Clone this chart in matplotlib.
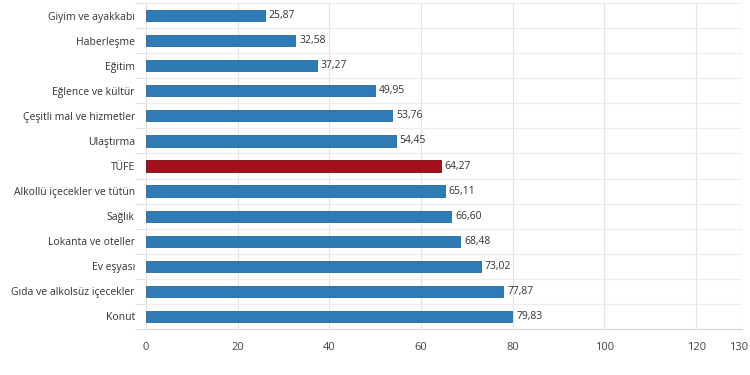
import matplotlib
matplotlib.use("Agg")
import matplotlib.pyplot as plt
import matplotlib.transforms as mtransforms
import numpy as np

categories = ["Giyim ve ayakkabı", "Haberleşme", "Eğitim", "Eğlence ve kültür",
              "Çeşitli mal ve hizmetler", "Ulaştırma", "TÜFE", "Alkollü içecekler ve tütün",
              "Sağlık", "Lokanta ve oteller", "Ev eşyası", "Gıda ve alkolsüz içecekler", "Konut"]
values = [25.87, 32.58, 37.27, 49.95, 53.76, 54.45, 64.27, 65.11, 66.60, 68.48, 73.02, 77.87, 79.83]
xticks = [0, 20, 40, 60, 80, 100, 120, 130]

plt.rcParams['font.family'] = ['Open Sans', 'DejaVu Sans']

fig = plt.figure(figsize=(7.5, 3.75), dpi=100)
ax = fig.add_axes([146/750, 1-329/375, (742-146)/750, (329-3)/375])

n = len(categories)
y = np.arange(n)
colors = ['#a50f1b' if c == 'TÜFE' else '#2f7bb6' for c in categories]
edges = ['#7a0a14' if c == 'TÜFE' else '#25679c' for c in categories]
ax.barh(y, values, height=0.45, color=colors, edgecolor=edges, linewidth=0.6, zorder=3)
for yi, v in zip(y, values):
    ax.text(v + 0.9, yi, f"{v:.2f}".replace('.', ','), va='center', ha='left',
            fontsize=7.5, color='#333333', zorder=4)

ax.set_xlim(0, 130)
ax.set_ylim(n - 0.5, -0.5)
ax.set_xticks(xticks)
ax.set_xticklabels([str(t) for t in xticks], fontsize=8, color='#444444')
ax.set_yticks(y)
ax.set_yticklabels(categories, fontsize=7.5, color='#333333')
ax.set_yticks(np.arange(-0.5, n, 1), minor=True)

ax.grid(axis='x', color='#e3e3e3', linewidth=0.8, zorder=0)
ax.grid(axis='y', which='minor', color='#f0ecec', linewidth=0.8, zorder=0)
ax.tick_params(axis='x', length=0, pad=9)
ax.tick_params(axis='y', which='major', length=0, pad=8)
ax.tick_params(axis='y', which='minor', length=8, color='#e8dede', width=0.8)
for s in ['top', 'right', 'left']:
    ax.spines[s].set_visible(False)
ax.spines['bottom'].set_color('#dcd4d4')
ax.spines['bottom'].set_linewidth(0.8)

# nudge the last tick label so it stays inside the figure
last = ax.get_xticklabels()[-1]
last.set_transform(last.get_transform() + mtransforms.ScaledTranslation(-3/100, 0, fig.dpi_scale_trans))

fig.savefig("out.png", dpi=100)
